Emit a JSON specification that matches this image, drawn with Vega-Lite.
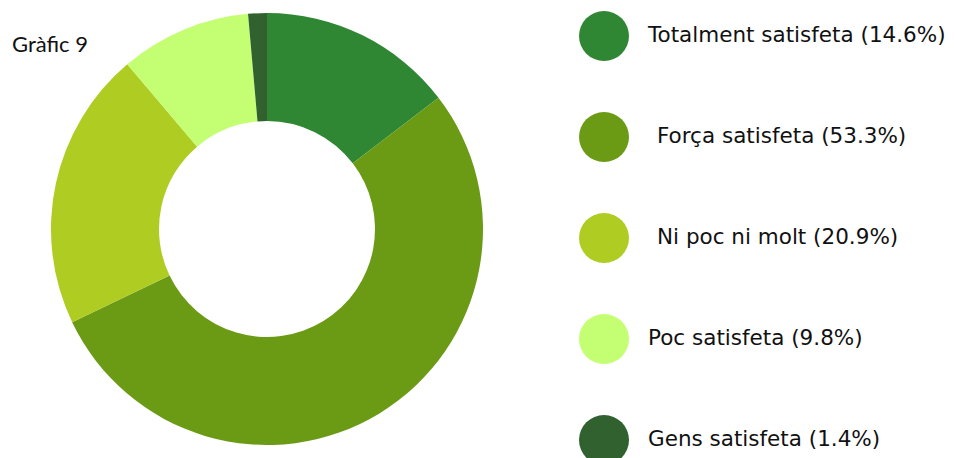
{
  "$schema": "https://vega.github.io/schema/vega-lite/v6.json",
  "width": 534,
  "height": 458,
  "autosize": {"type": "none"},
  "padding": {"left": 0, "top": 0, "right": 421, "bottom": 0},
  "background": "white",
  "title": {
    "text": "Gràfic 9",
    "anchor": "start",
    "orient": "top",
    "offset": 0,
    "dx": 12,
    "dy": 74,
    "font": "Lato",
    "fontSize": 22,
    "fontWeight": "normal",
    "color": "#111111",
    "baseline": "alphabetic"
  },
  "data": {
    "values": [
      {"cat": "Totalment satisfeta (14.6%)", "pct": 14.6, "ord": 1},
      {"cat": "Força satisfeta (53.3%)", "pct": 53.3, "ord": 2},
      {"cat": "Ni poc ni molt (20.9%)", "pct": 20.9, "ord": 3},
      {"cat": "Poc satisfeta (9.8%)", "pct": 9.8, "ord": 4},
      {"cat": "Gens satisfeta (1.4%)", "pct": 1.4, "ord": 5}
    ]
  },
  "mark": {"type": "arc", "radius": 216, "radius2": 108},
  "encoding": {
    "theta": {"field": "pct", "type": "quantitative", "stack": true},
    "order": {"field": "ord", "type": "quantitative"},
    "color": {
      "field": "cat",
      "type": "nominal",
      "scale": {
        "domain": ["Totalment satisfeta (14.6%)", "Força satisfeta (53.3%)", "Ni poc ni molt (20.9%)", "Poc satisfeta (9.8%)", "Gens satisfeta (1.4%)"],
        "range": ["#2F8733", "#6B9A15", "#AECC22", "#C4FE73", "#30612E"]
      },
      "legend": {
        "title": null,
        "orient": "none",
        "legendX": 579,
        "legendY": 11,
        "padding": 0,
        "symbolType": "circle",
        "symbolSize": 2500,
        "symbolStrokeWidth": 0,
        "symbolOpacity": 1,
        "labelOffset": 19,
        "labelFont": "DejaVu Sans",
        "labelFontSize": 21.5,
        "labelColor": "#111111",
        "labelLimit": 400,
        "rowPadding": 51,
        "encode": {"labels": {"update": {"dx": {"signal": "(indexof(datum.value, 'Força') >= 0 || indexof(datum.value, 'Ni poc') >= 0) ? 9 : 0"}}}}
      }
    }
  }
}
